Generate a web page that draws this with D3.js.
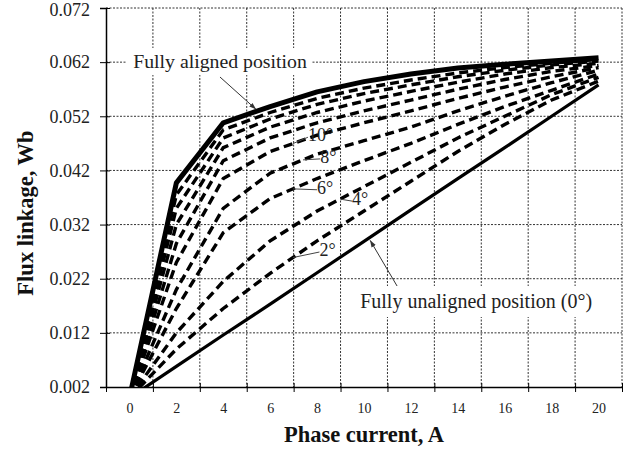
<!DOCTYPE html>
<html>
<head>
<meta charset="utf-8">
<script src="https://cdn.jsdelivr.net/npm/d3@7"></script>
<style>
  body { margin: 0; background: #fff; }
  svg { font-family: "Liberation Serif", "Times New Roman", serif; }
</style>
</head>
<body>
<div id="chart-container"></div>
<script>
// phase current (A) and flux linkage (Wb) per rotor position
const current = [0, 2, 4, 6, 8, 10, 12, 14, 16, 18, 20];
const fluxAligned   = [0, 0.0397, 0.0508, 0.0538, 0.0565, 0.0584, 0.0598, 0.0609, 0.0616, 0.0622, 0.0628];
const flux18 = [0, 0.0375, 0.0495, 0.0527, 0.0553, 0.0572, 0.0587, 0.0600, 0.0610, 0.0618, 0.0625];
const flux16 = [0, 0.0350, 0.0480, 0.0515, 0.0542, 0.0562, 0.0578, 0.0593, 0.0605, 0.0615, 0.0622];
const flux14 = [0, 0.0320, 0.0462, 0.0500, 0.0527, 0.0548, 0.0566, 0.0583, 0.0598, 0.0610, 0.0618];
const flux12 = [0, 0.0285, 0.0438, 0.0480, 0.0508, 0.0530, 0.0550, 0.0570, 0.0588, 0.0603, 0.0614];
const flux10 = [0, 0.0250, 0.0405, 0.0455, 0.0485, 0.0508, 0.0530, 0.0553, 0.0574, 0.0593, 0.0610];
const flux8  = [0, 0.0200, 0.0350, 0.0415, 0.0450, 0.0475, 0.0500, 0.0530, 0.0557, 0.0582, 0.0605];
const flux6  = [0, 0.0165, 0.0305, 0.0368, 0.0405, 0.0438, 0.0470, 0.0505, 0.0538, 0.0568, 0.0598];
const flux4  = [0, 0.0120, 0.0215, 0.0290, 0.0345, 0.0390, 0.0435, 0.0480, 0.0520, 0.0560, 0.0592];
const flux2  = [0, 0.0090, 0.0165, 0.0230, 0.0290, 0.0345, 0.0400, 0.0455, 0.0505, 0.0550, 0.0585];
const fluxUnaligned = [0, 0.0058, 0.0116, 0.0173, 0.0231, 0.0289, 0.0347, 0.0405, 0.0462, 0.0520, 0.0578];

const dashedSeries = [
  { angle: 2, values: flux2 }, { angle: 4, values: flux4 }, { angle: 6, values: flux6 },
  { angle: 8, values: flux8 }, { angle: 10, values: flux10 }, { angle: 12, values: flux12 },
  { angle: 14, values: flux14 }, { angle: 16, values: flux16 }, { angle: 18, values: flux18 }
];

const yTicks = [0.002, 0.012, 0.022, 0.032, 0.042, 0.052, 0.062, 0.072];
const xLabels = [0, 2, 4, 6, 8, 10, 12, 14, 16, 18, 20];
const xGrid = [-1, 1, 3, 5, 7, 9, 11, 13, 15, 17, 19, 21];

// angle labels: where the leader leaves the curve, and where the text sits
const angleLabels = [
  { angle: 10, at: 6.97, tx: 7.61, ty: 0.0485 },
  { angle: 8,  at: 7.40, tx: 8.13, ty: 0.0445 },
  { angle: 6,  at: 6.97, tx: 8.00, ty: 0.0388 },
  { angle: 4,  at: 8.98, tx: 9.49, ty: 0.0367 },
  { angle: 2,  at: 6.97, tx: 8.10, ty: 0.0273 }
];

const width = 637, height = 453;
const margin = { top: 8, right: 15, bottom: 66, left: 106 };

const svg = d3.select("#chart-container")
  .append("svg")
    .attr("width", width)
    .attr("height", height);

svg.append("rect").attr("width", width).attr("height", height).attr("fill", "#fff");

const x = d3.scaleLinear().domain([-1, 21]).range([margin.left, width - margin.right]);
const y = d3.scaleLinear().domain([0.002, 0.072]).range([height - margin.bottom, margin.top]);

// value of a series at any current (straight segments between points)
function fluxAt(values, i) {
  const k = Math.min(Math.floor(i / 2), values.length - 2);
  return values[k] + (values[k + 1] - values[k]) * (i / 2 - k);
}

// grid
const gridColor = "#333";
svg.append("g")
  .selectAll("line")
  .data(xGrid.slice(1))
  .enter().append("line")
    .attr("x1", d => x(d)).attr("x2", d => x(d))
    .attr("y1", y(0.072)).attr("y2", y(0.002))
    .attr("stroke", gridColor).attr("stroke-width", 1)
    .attr("stroke-dasharray", "2,1.5");

svg.append("g")
  .selectAll("line")
  .data(yTicks.slice(1))
  .enter().append("line")
    .attr("x1", x(-1)).attr("x2", x(21))
    .attr("y1", d => y(d)).attr("y2", d => y(d))
    .attr("stroke", gridColor).attr("stroke-width", 1)
    .attr("stroke-dasharray", "2,1.5");

// white boxes behind the two callouts hide the grid
svg.append("rect")
  .attr("x", 127).attr("y", 48).attr("width", 184).attr("height", 27)
  .attr("fill", "#fff");
svg.append("rect")
  .attr("x", 355).attr("y", 286).attr("width", 243).attr("height", 31)
  .attr("fill", "#fff");

// curves
svg.append("clipPath").attr("id", "plot-clip")
  .append("rect")
    .attr("x", x(-1)).attr("y", y(0.072))
    .attr("width", x(21) - x(-1)).attr("height", y(0.002) - y(0.072));

const line = d3.line()
  .x((d, i) => x(current[i]))
  .y(d => y(d));

const curves = svg.append("g").attr("clip-path", "url(#plot-clip)");

curves.append("path")
  .attr("d", line(fluxUnaligned))
  .attr("fill", "none").attr("stroke", "#000").attr("stroke-width", 3.2);

curves.selectAll("path.dashed")
  .data(dashedSeries)
  .enter().append("path")
    .attr("class", "dashed")
    .attr("d", d => line(d.values))
    .attr("fill", "none").attr("stroke", "#000")
    .attr("stroke-width", 3.4)
    .attr("stroke-dasharray", "9,5");

curves.append("path")
  .attr("d", line(fluxAligned))
  .attr("fill", "none").attr("stroke", "#000").attr("stroke-width", 5)
  .attr("stroke-linejoin", "round");

// axes
const yAxis = svg.append("g")
  .attr("transform", `translate(${x(-1)},0)`)
  .call(d3.axisLeft(y).tickValues(yTicks).tickFormat(d3.format(".3f")).tickSize(6).tickPadding(10));
yAxis.selectAll(".tick line").attr("x1", 4).attr("stroke", "#000");
yAxis.select(".domain").attr("stroke", "#000").attr("stroke-width", 1.5);
yAxis.selectAll("text")
  .attr("font-family", "Liberation Serif").attr("font-size", 18).attr("fill", "#222");
// keep the top label inside the picture
yAxis.selectAll(".tick text").filter(d => d === 0.072).attr("dy", "0.42em");

const xAxis = svg.append("g")
  .attr("transform", `translate(0,${y(0.002)})`)
  .call(d3.axisBottom(x).tickValues(xGrid).tickFormat("").tickSize(5).tickSizeOuter(0));
xAxis.selectAll(".tick line").attr("y1", -4).attr("stroke", "#000");
xAxis.select(".domain").attr("stroke", "#000").attr("stroke-width", 1.5);

const xLab = svg.append("g")
  .attr("transform", `translate(0,${y(0.002)})`)
  .call(d3.axisBottom(x).tickValues(xLabels).tickSize(0).tickPadding(16));
xLab.select(".domain").remove();
xLab.selectAll("text")
  .attr("font-family", "Liberation Serif").attr("font-size", 14).attr("fill", "#222");

// titles
svg.append("text")
  .attr("x", (x(-1) + x(21)) / 2).attr("y", 442)
  .attr("text-anchor", "middle")
  .attr("font-size", 22.5).attr("font-weight", "bold").attr("fill", "#111")
  .text("Phase current, A");

svg.append("text")
  .attr("transform", "translate(33,213) rotate(-90)")
  .attr("text-anchor", "middle")
  .attr("font-size", 22.5).attr("font-weight", "bold").attr("fill", "#111")
  .text("Flux linkage, Wb");

// arrow marker
svg.append("defs").append("marker")
  .attr("id", "arrow").attr("viewBox", "0 0 10 10")
  .attr("refX", 10).attr("refY", 5)
  .attr("markerWidth", 7).attr("markerHeight", 7)
  .attr("orient", "auto")
  .append("path").attr("d", "M0,1.5L10,5L0,8.5Z").attr("fill", "#333");

// callouts
svg.append("text")
  .attr("x", x(3.86)).attr("y", 68)
  .attr("text-anchor", "middle")
  .attr("font-size", 19.8).attr("fill", "#222")
  .text("Fully aligned position");
svg.append("line")
  .attr("x1", x(3.86)).attr("y1", 77)
  .attr("x2", x(5.4)).attr("y2", y(fluxAt(fluxAligned, 5.4)) - 2)
  .attr("stroke", "#333").attr("stroke-width", 1)
  .attr("marker-end", "url(#arrow)");

svg.append("text")
  .attr("x", x(14.78)).attr("y", 308)
  .attr("text-anchor", "middle")
  .attr("font-size", 20).attr("fill", "#222")
  .text("Fully unaligned position (0°)");
svg.append("line")
  .attr("x1", x(11.41)).attr("y1", 286)
  .attr("x2", x(10.26)).attr("y2", y(fluxAt(fluxUnaligned, 10.26)) + 3)
  .attr("stroke", "#333").attr("stroke-width", 1)
  .attr("marker-end", "url(#arrow)");

// angle labels with leaders
const labelSeries = {};
dashedSeries.forEach(s => { labelSeries[s.angle] = s.values; });

const lab = svg.append("g").selectAll("g")
  .data(angleLabels)
  .enter().append("g");

lab.append("line")
  .attr("x1", d => x(d.at)).attr("y1", d => y(fluxAt(labelSeries[d.angle], d.at)))
  .attr("x2", d => x(d.tx)).attr("y2", d => y(d.ty) + 2)
  .attr("stroke", "#444").attr("stroke-width", 1);

lab.append("text")
  .attr("x", d => x(d.tx)).attr("y", d => y(d.ty) + 6)
  .attr("font-size", 18).attr("fill", "#222")
  .text(d => d.angle + "°");
</script>
</body>
</html>
